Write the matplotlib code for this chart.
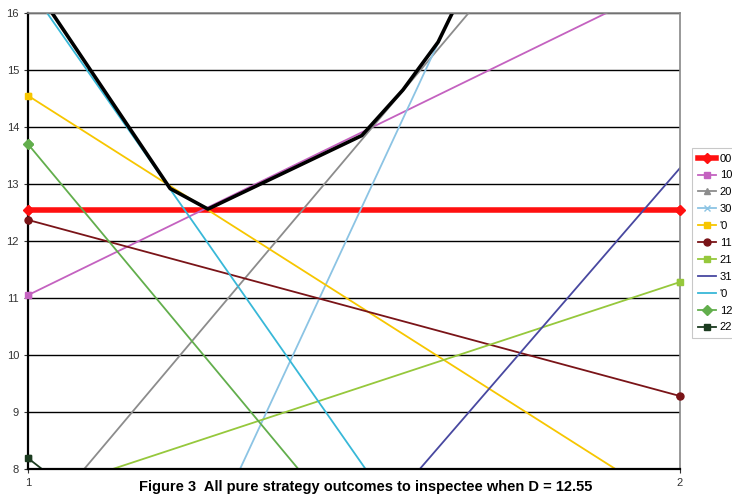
import matplotlib
matplotlib.use('Agg')
import matplotlib.pyplot as plt

plt.rcParams['font.family'] = ['Liberation Sans', 'DejaVu Sans']

# categories on the x axis
x_cats = [1, 2]

# series values (start at 1, end at 2)
labels = ['00', '10', '20', '30', "'0", '11', '21', '31', "'0", '12', '22']
values = [
    [12.55, 12.55],
    [11.05, 16.63],
    [6.83, 20.4],
    [0.0, 24.6],
    [14.55, 7.28],
    [12.37, 9.28],
    [7.51, 11.28],
    [0.05, 13.28],
    [16.48, 0.1],
    [13.70, -0.05],
    [8.19, -0.7],
]
colors = ['#FF1010', '#C462C0', '#8C8C8C', '#8CC4E4', '#F7C600', '#7A1418',
          '#96C83C', '#4848A0', '#38B8D8', '#62AE4C', '#1C3C20']
markers = ['D', 's', '^', 'x', 's', 'o', 's', None, None, 'D', 's']
widths = [4.0, 1.3, 1.3, 1.3, 1.3, 1.3, 1.3, 1.3, 1.3, 1.3, 1.3]

# hand drawn envelope (black line)
env_x = [1.037, 1.218, 1.276, 1.512, 1.575, 1.629, 1.655]
env_y = [16.0, 12.92, 12.56, 13.85, 14.65, 15.49, 16.1]

fig = plt.figure(figsize=(7.32, 5.0), dpi=100)
ax = fig.add_axes([28 / 732, 1 - 469 / 500, 652 / 732, 456 / 500])

for lab, v, c, m, w in zip(labels, values, colors, markers, widths):
    ax.plot(x_cats, v, color=c, lw=w, marker=m, markersize=5, label=lab)
    # markers drawn unclipped where the point lies inside the value range
    if m is not None:
        px = [x for x, y in zip(x_cats, v) if 8 <= y <= 16]
        py = [y for y in v if 8 <= y <= 16]
        ax.plot(px, py, ls='none', marker=m, markersize=5, color=c,
                clip_on=False, zorder=4)

ax.plot(env_x, env_y, color='black', lw=2.6, solid_joinstyle='round')

ax.set_xlim(1, 2)
ax.set_ylim(8, 16)
ax.set_xticks([1, 2])
ax.set_yticks(range(8, 17))
ax.yaxis.grid(True, color='black', lw=1.0)
ax.set_axisbelow(True)
ax.tick_params(axis='both', labelsize=8, length=3, color='#333333',
               labelcolor='#333333')
for s in ['top', 'right']:
    ax.spines[s].set_color('#888888')
    ax.spines[s].set_linewidth(1.2)
ax.spines['left'].set_linewidth(1.6)
ax.spines['bottom'].set_linewidth(1.6)

leg = ax.legend(loc='upper left', bbox_to_anchor=(692 / 732, 1 - 148 / 500),
                bbox_transform=fig.transFigure, fontsize=8, frameon=True,
                fancybox=False, handlelength=1.7, handletextpad=0.3,
                labelspacing=0.62, borderpad=0.5, borderaxespad=0)
leg.get_frame().set_edgecolor('#BBBBBB')
leg.get_frame().set_linewidth(0.8)

fig.text(0.5, 1 - 487 / 500, 'Figure 3  All pure strategy outcomes to inspectee when D = 12.55',
         ha='center', va='center', fontsize=10.5, fontweight='bold')

fig.savefig('out.png', dpi=100)
